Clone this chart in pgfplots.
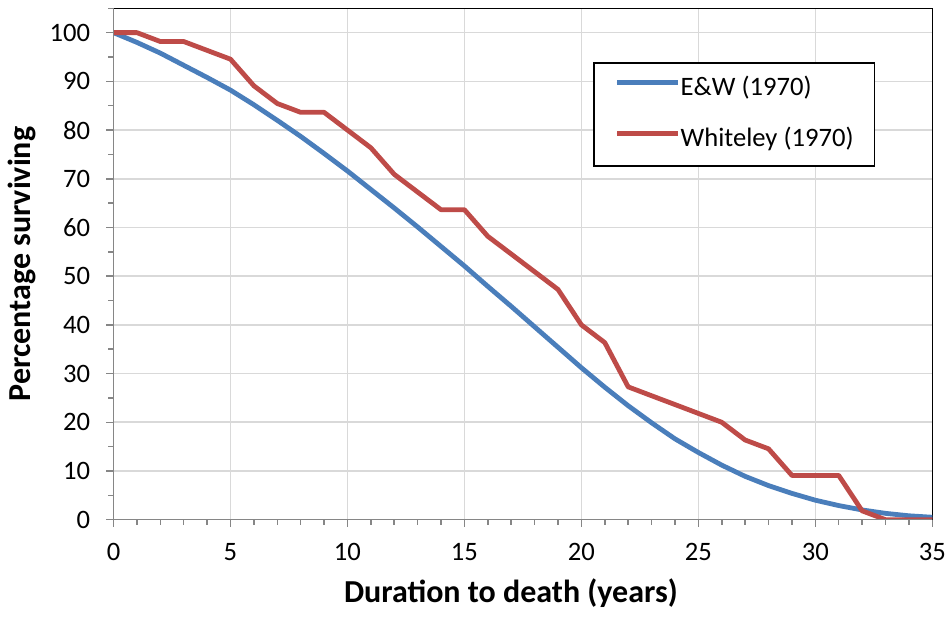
\documentclass[border=0pt]{standalone}
\usepackage{fontspec}
\setmainfont{Carlito}
\usepackage{pgfplots}
\pgfplotsset{compat=1.18}
\definecolor{ewblue}{RGB}{74,126,187}
\definecolor{whred}{RGB}{190,75,72}
\definecolor{gridgray}{RGB}{217,217,217}
\definecolor{axgray}{RGB}{134,134,134}
\begin{document}
\begin{tikzpicture}
\begin{axis}[
  scale only axis,
  width=409.4pt, height=255.7pt,
  xmin=0, xmax=35, ymin=0, ymax=105,
  xtick={0,5,...,35}, minor xtick={0,1,...,35},
  ytick={0,10,...,100}, minor ytick={5,15,...,105},
  grid=major,
  major grid style={gridgray, line width=0.8pt},
  tick pos=left, tick align=outside,
  major tick length=3.5pt, minor tick length=2.5pt,
  every tick/.style={axgray, line width=0.75pt},
  axis line style={black, line width=0.6pt},
  /pgf/number format/assume math mode=true,
  tick label style={font=\fontsize{13.3}{16}\selectfont},
  xticklabel style={yshift=-4.6pt},
  yticklabel style={xshift=-4.7pt},
  xlabel={Duration to death (years)},
  ylabel={Percentage surviving},
  label style={font=\fontsize{16}{19}\selectfont\bfseries},
  xlabel style={at={(axis description cs:0.5,0)}, anchor=center, xshift=-6pt, yshift=-36.7pt},
  ylabel style={at={(axis description cs:0,0.5)}, anchor=center, rotate=0, yshift=45.75pt},
  legend cell align=left,
  legend image code/.code={\draw[#1, line cap=round] (1pt,0.32em) -- (27pt,0.32em); \path (0pt,0.32em) -- (30.5pt,0.32em);},
  legend style={at={(0.586,0.894)}, anchor=north west, draw=black, line width=0.6pt,
    font=\fontsize{13.3}{16}\selectfont,
    inner xsep=10.5pt, inner ysep=7pt, row sep=13.5pt,
    nodes={inner sep=0pt, text height=9pt, text depth=3pt}},
]
\addplot[ewblue, line width=2.4pt, line join=round] coordinates {
(0,100) (1,98.0) (2,95.8) (3,93.3) (4,90.8) (5,88.2) (6,85.2) (7,82.0) (8,78.7) (9,75.2)
(10,71.6) (11,67.8) (12,64.0) (13,60.1) (14,56.1) (15,52.1) (16,47.9) (17,43.8) (18,39.6) (19,35.4)
(20,31.2) (21,27.2) (22,23.4) (23,19.9) (24,16.6) (25,13.8) (26,11.2) (27,8.9) (28,7.0) (29,5.4)
(30,4.0) (31,2.9) (32,2.0) (33,1.3) (34,0.8) (35,0.5)
};
\addlegendentry{E\&W (1970)}
\addplot[whred, line width=2.4pt, line join=round] coordinates {
(0,100) (1,100) (2,98.18) (3,98.18) (4,96.36) (5,94.55) (6,89.09) (7,85.45) (8,83.64) (9,83.64)
(10,80.0) (11,76.36) (12,70.91) (13,67.27) (14,63.64) (15,63.64) (16,58.18) (17,54.55) (18,50.91) (19,47.27)
(20,40.0) (21,36.36) (22,27.27) (23,25.45) (24,23.64) (25,21.82) (26,20.0) (27,16.36) (28,14.55) (29,9.09)
(30,9.09) (31,9.09) (32,1.82) (33,0) (34,0) (35,0)
};
\addlegendentry{Whiteley (1970)}
\end{axis}
\draw[axgray, line width=0.75pt] (current axis.north west) -- (current axis.south west) -- (current axis.south east);
\pgfresetboundingbox
\path[use as bounding box] ([shift={(-56.75pt,-49.15pt)}]current axis.south west) rectangle ([shift={(7.85pt,4.15pt)}]current axis.north east);
\end{tikzpicture}
\end{document}
